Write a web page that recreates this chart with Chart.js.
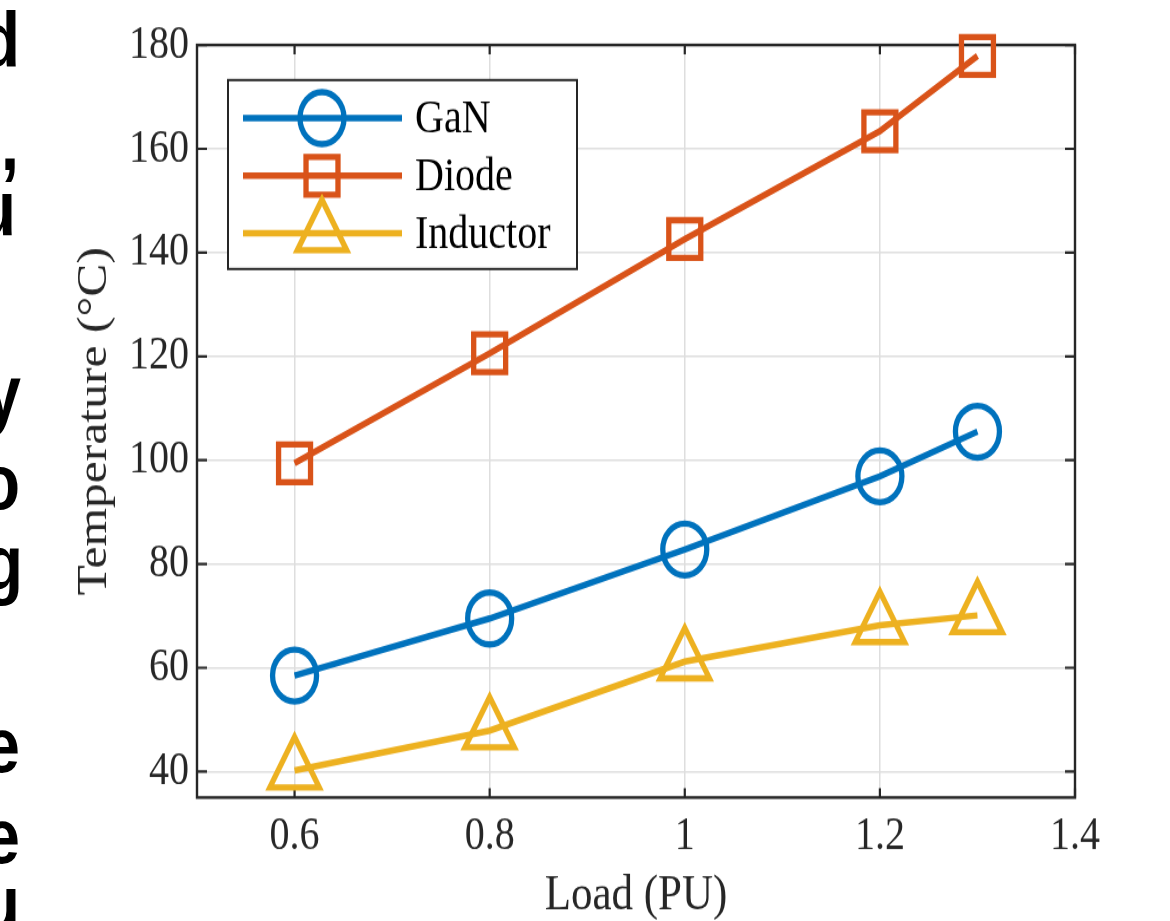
<!DOCTYPE html>
<html><head><meta charset="utf-8">
<script src="https://cdn.jsdelivr.net/npm/chart.js@4/dist/chart.umd.min.js"></script>
<style>
html,body{margin:0;padding:0;background:#fff;overflow:hidden;width:1170px;height:921px;}
#wrap{position:absolute;left:0;top:0;width:1170px;height:800px;transform-origin:0 0;transform:scaleY(1.1808);}
canvas{position:absolute;left:0;top:0;}
#edge{position:absolute;left:0;top:0;width:0;height:800px;}
#edge span{position:absolute;font:bold 66px "Liberation Sans";line-height:1;color:#000;white-space:nowrap;}
</style></head><body>
<div id="wrap">
<canvas id="c" width="1170" height="800"></canvas>
<div id="edge">
<span style="top:1px;right:-20px">d</span>
<span style="top:88px;right:-19px">,</span>
<span style="top:143px;right:-16px">u</span>
<span style="top:300px;right:-21px">y</span>
<span style="top:375px;right:-20px">o</span>
<span style="top:444px;right:-23px">g</span>
<span style="top:598px;right:-20px">e</span>
<span style="top:675px;right:-20px">e</span>
<span style="top:732px;right:-20px">u</span>
</div>
</div>
<script>
// ---- data ----
const loads = [0.6, 0.8, 1.0, 1.2, 1.3];
const ganTemp = [58.5, 69.5, 82.8, 96.9, 105.5];
const diodeTemp = [99.4, 120.6, 142.6, 163.4, 177.9];
const inductorTemp = [40.2, 47.9, 61.2, 68.2, 70.1];
const seriesNames = ['GaN', 'Diode', 'Inductor'];
const xTicks = [0.6, 0.8, 1.0, 1.2, 1.4];
const xTickLabels = ['0.6', '0.8', '1', '1.2', '1.4'];
const yTicks = [40, 60, 80, 100, 120, 140, 160, 180];
const yTickLabels = ['40', '60', '80', '100', '120', '140', '160', '180'];

const SERIF = '"Liberation Serif", "Times New Roman", serif';
const CH = 800, PLOT_TOP = 38.1, PLOT_BOTTOM = 675.4, PLOT_LEFT = 197, PLOT_RIGHT = 1075;

function markerPath(ctx, style, r, x, y) {
  ctx.beginPath();
  if (style === 'circle') {
    ctx.arc(x, y, r, 0, Math.PI * 2);
  } else if (style === 'rect') {
    const s = Math.SQRT1_2 * r;
    ctx.rect(x - s, y - s, 2 * s, 2 * s);
  } else if (style === 'triangle') {
    let a = 0;
    ctx.moveTo(x + Math.sin(a) * r, y - Math.cos(a) * r);
    a += 2 * Math.PI / 3;
    ctx.lineTo(x + Math.sin(a) * r, y - Math.cos(a) * r);
    a += 2 * Math.PI / 3;
    ctx.lineTo(x + Math.sin(a) * r, y - Math.cos(a) * r);
    ctx.closePath();
  }
}

const framePlugin = {
  id: 'frame',
  beforeDatasetsDraw(chart) {
    const {ctx, chartArea: a, scales: {x, y}} = chart;
    ctx.save();
    ctx.strokeStyle = '#262626';
    ctx.lineWidth = 2.2;
    ctx.beginPath();
    x.ticks.forEach(t => {
      const px = x.getPixelForValue(t.value);
      ctx.moveTo(px, a.bottom); ctx.lineTo(px, a.bottom - 8);
      ctx.moveTo(px, a.top); ctx.lineTo(px, a.top + 8);
    });
    y.ticks.forEach(t => {
      const py = y.getPixelForValue(t.value);
      ctx.moveTo(a.left, py); ctx.lineTo(a.left + 10, py);
      ctx.moveTo(a.right, py); ctx.lineTo(a.right - 10, py);
    });
    ctx.stroke();
    ctx.lineWidth = 2.4;
    ctx.strokeRect(a.left, a.top, a.right - a.left, a.bottom - a.top);
    ctx.restore();
  }
};

const legendPlugin = {
  id: 'matlabLegend',
  afterDraw(chart) {
    const {ctx, chartArea: a} = chart;
    const bx = a.left + 31, by = a.top + 29.7, bw = 349, bh = 160;
    ctx.save();
    ctx.fillStyle = '#fff';
    ctx.fillRect(bx, by, bw, bh);
    ctx.strokeStyle = '#262626';
    ctx.lineWidth = 2;
    ctx.strokeRect(bx, by, bw, bh);
    chart.data.datasets.forEach((ds, i) => {
      const cy = by + 32.2 + i * 48.8;
      ctx.strokeStyle = ds.borderColor;
      ctx.lineWidth = ds.borderWidth;
      ctx.beginPath();
      ctx.moveTo(bx + 15, cy); ctx.lineTo(bx + 174, cy);
      ctx.stroke();
      ctx.lineWidth = ds.pointBorderWidth;
      markerPath(ctx, ds.pointStyle, ds.pointRadius, bx + 94, cy);
      ctx.stroke();
      ctx.fillStyle = '#000';
      ctx.font = '40px ' + SERIF;
      ctx.textBaseline = 'alphabetic';
      ctx.textAlign = 'left';
      ctx.fillText(ds.label, bx + 187, cy + 12);
    });
    ctx.restore();
  }
};

function mkSet(label, values, color, style, radius) {
  return {
    label,
    data: loads.map((x, i) => ({x, y: values[i]})),
    borderColor: color,
    backgroundColor: color,
    borderWidth: 5.5,
    pointStyle: style,
    pointRadius: radius,
    pointHoverRadius: radius,
    pointBorderWidth: 5.3,
    pointBorderColor: color,
    pointBackgroundColor: 'rgba(0,0,0,0)',
    tension: 0,
    clip: false,
    fill: false
  };
}

new Chart(document.getElementById('c'), {
  type: 'line',
  data: {
    datasets: [
      mkSet(seriesNames[0], ganTemp, '#0072BD', 'circle', 22),
      mkSet(seriesNames[1], diodeTemp, '#D95319', 'rect', 22.6),
      mkSet(seriesNames[2], inductorTemp, '#EDB120', 'triangle', 28.5)
    ]
  },
  options: {
    responsive: false,
    devicePixelRatio: 1,
    animation: false,
    layout: {padding: {left: 0, right: 1170 - PLOT_RIGHT, top: PLOT_TOP, bottom: 0}},
    plugins: {legend: {display: false}, tooltip: {enabled: false}},
    scales: {
      x: {
        type: 'linear',
        min: 0.5, max: 1.4,
        afterBuildTicks: s => { s.ticks = xTicks.map(v => ({value: v})); },
        afterFit: s => { s.height = CH - PLOT_BOTTOM; },
        grid: {color: '#dedede', lineWidth: 1.5, drawTicks: false},
        border: {display: false},
        ticks: {
          font: {family: SERIF, size: 40}, color: '#262626', padding: 9,
          maxRotation: 0, autoSkip: false,
          callback: (v, i) => xTickLabels[i]
        },
        title: {display: true, text: 'Load (PU)', font: {family: SERIF, size: 43}, color: '#262626', padding: {top: 0, bottom: 15.5}}
      },
      y: {
        type: 'linear',
        min: 35, max: 180,
        afterBuildTicks: s => { s.ticks = yTicks.map(v => ({value: v})); },
        afterFit: s => { s.width = PLOT_LEFT; },
        grid: {color: '#dedede', lineWidth: 1.5, drawTicks: false},
        border: {display: false},
        ticks: {
          font: {family: SERIF, size: 40}, color: '#262626', padding: 8,
          autoSkip: false,
          callback: (v, i) => yTickLabels[i]
        },
        title: {display: true, text: 'Temperature (°C)', font: {family: SERIF, size: 42}, color: '#262626', padding: {top: 70, bottom: 0}}
      }
    }
  },
  plugins: [framePlugin, legendPlugin]
});
</script>
</body></html>
